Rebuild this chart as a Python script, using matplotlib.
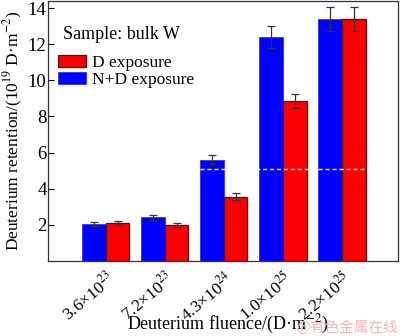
import matplotlib
matplotlib.use("Agg")
import matplotlib.pyplot as plt
import numpy as np
from matplotlib.patches import Patch

categories = ["3.6×10$^{23}$", "7.2×10$^{23}$", "4.3×10$^{24}$", "1.0×10$^{25}$", "2.2×10$^{25}$"]
nd_values = [2.05, 2.4, 5.6, 12.4, 13.4]
nd_errors = [0.1, 0.12, 0.25, 0.6, 0.65]
d_values = [2.08, 1.97, 3.55, 8.85, 13.4]
d_errors = [0.1, 0.1, 0.18, 0.4, 0.65]
threshold = 5.1

plt.rcParams['font.family'] = ['Liberation Serif', 'DejaVu Serif']
plt.rcParams['mathtext.fontset'] = 'stix'

fig = plt.figure(figsize=(4.0, 3.36), dpi=100)
ax = fig.add_axes([0.12, 0.224, 0.875, 0.773])

x = np.arange(len(categories))
w = 0.4
ax.bar(x - w/2, nd_values, w, color='#0000ff', edgecolor='#3030ff', linewidth=0.6,
       yerr=nd_errors, error_kw=dict(ecolor='#333333', elinewidth=0.9, capsize=3, capthick=0.9))
ax.bar(x + w/2, d_values, w, color='#ff0000', edgecolor='#5a1010', linewidth=0.9,
       yerr=d_errors, error_kw=dict(ecolor='#333333', elinewidth=0.9, capsize=3, capthick=0.9))

ax.plot([x[2] - w, x[4] + w], [threshold, threshold], color='white', linestyle=(0, (3, 2)), linewidth=1.0)

ax.set_xlim(-0.98, 4.95)
ax.set_ylim(0, 14.4)
ax.set_yticks([2, 4, 6, 8, 10, 12, 14])
ax.set_xticks(x)
ax.set_xticklabels(categories, rotation=40, ha='right', rotation_mode='anchor', fontsize=12.5)
ax.tick_params(axis='y', direction='in', length=4, labelsize=13.5, pad=1)
ax.tick_params(axis='x', length=0, pad=6)
for s in ax.spines.values():
    s.set_linewidth(0.9)
    s.set_color('#333333')

ax.set_ylabel("Deuterium retention/(10$^{19}$ D·m$^{-2}$)", fontsize=12.5, labelpad=2)
ax.set_xlabel("Deuterium fluence/(D·m$^{-2}$)", fontsize=13)
ax.xaxis.set_label_coords(0.515, -0.2)

ax.text(0.043, 0.872, "Sample: bulk W", transform=ax.transAxes, fontsize=13, va='center', ha='left')
handles = [Patch(facecolor='#ff0000', edgecolor='#5a1010', linewidth=0.9),
           Patch(facecolor='#0000ff', edgecolor='#3030ff', linewidth=0.6)]
leg = ax.legend(handles, ["D exposure", "N+D exposure"],
                loc='upper left', bbox_to_anchor=(0.02, 0.805), frameon=False,
                fontsize=12.5, handlelength=1.6, handleheight=0.65,
                handletextpad=0.35, labelspacing=0.05, borderaxespad=0.0, borderpad=0.2)

fig.text(0.995, 0.003, "@有色金属在线", fontsize=10.5, color='#f2b8b8', ha='right', va='bottom',
         family=['Noto Sans CJK SC', 'DejaVu Sans'])

fig.savefig("out.png", dpi=100)
